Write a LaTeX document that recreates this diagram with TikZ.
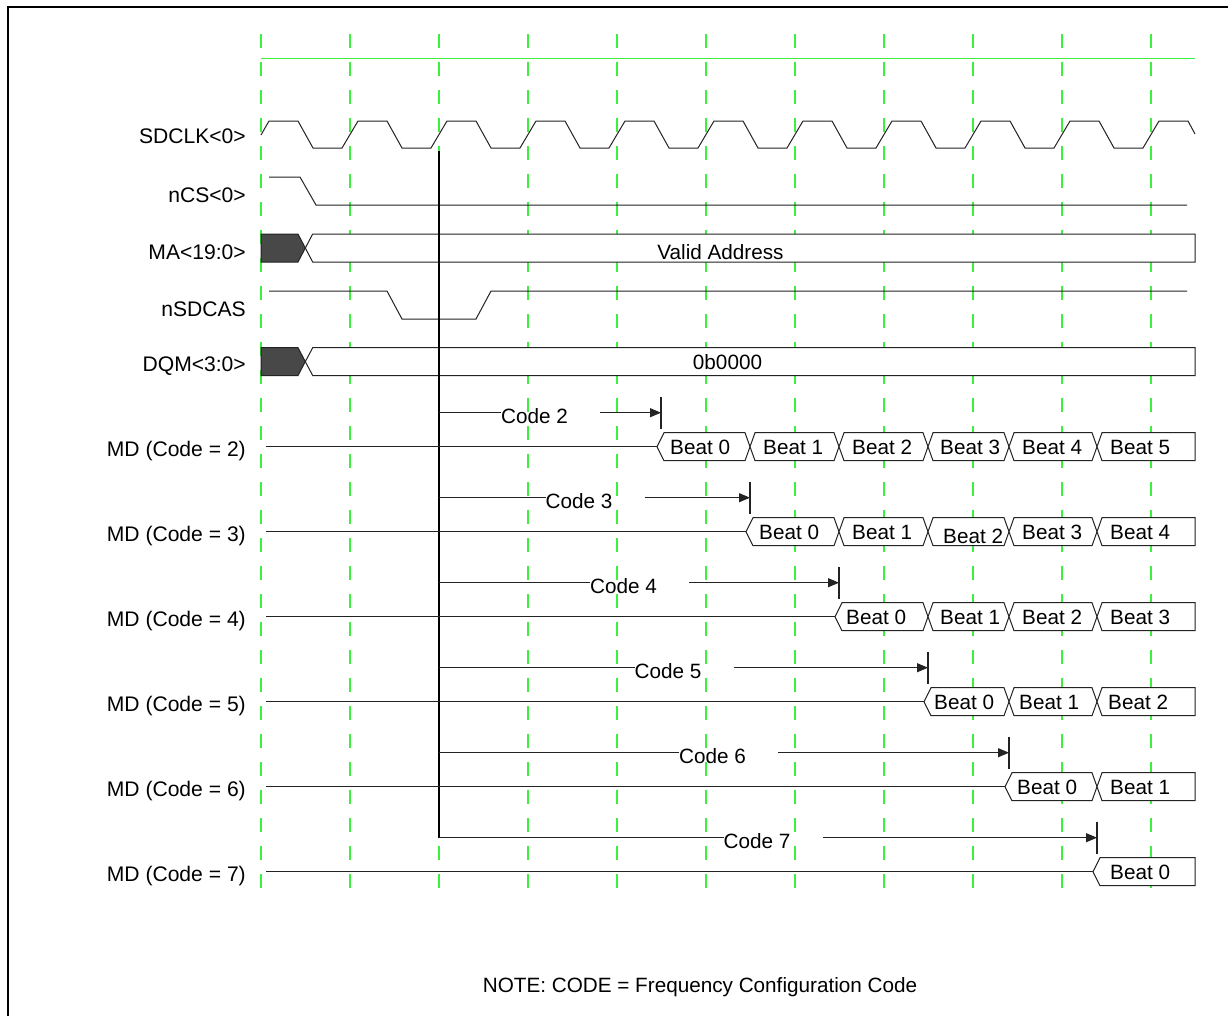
\documentclass[tikz,border=0pt]{standalone}
\usepackage{fontspec}
\setmainfont{Liberation Sans}
\usetikzlibrary{arrows.meta}
\definecolor{gridc}{RGB}{60,240,60}
\definecolor{sig}{RGB}{35,35,35}
\definecolor{busfill}{RGB}{72,72,72}
\tikzset{
  lbl/.style={font=\fontsize{20.7}{25}\selectfont, inner sep=0pt, text=black},
  sidelbl/.style={font=\fontsize{21.1}{25}\selectfont, inner sep=0pt, text=black, anchor=base east},
  gridline/.style={gridc, line width=1.4pt, dash pattern=on 14pt off 14pt},
  wave/.style={sig, line width=1pt},
  busline/.style={sig, line width=1pt, fill=white},
  darkbus/.style={sig, line width=1pt, fill=busfill},
  codeline/.style={sig, line width=1.1pt},
  codearrow/.style={sig, line width=1.1pt, -{Triangle[length=11pt,width=9pt]}},
  ticker/.style={sig, line width=1.1pt},
}
\newcommand\firstbeat[3]{\draw[busline] ({#1-4},#3) -- ({#1+3},{#3-14}) -- ({#2-5},{#3-14}) -- (#2,#3) -- ({#2-5},{#3+14}) -- ({#1+3},{#3+14}) -- cycle;}
\newcommand\midbeat[3]{\draw[busline] (#1,#3) -- ({#1+5},{#3-14}) -- ({#2-5},{#3-14}) -- (#2,#3) -- ({#2-5},{#3+14}) -- ({#1+5},{#3+14}) -- cycle;}
\newcommand\lastbeat[3]{\draw[busline] (#1,#3) -- ({#1+5},{#3-14}) -- (#2,{#3-14}) -- (#2,{#3+14}) -- ({#1+5},{#3+14}) -- cycle;}
\newcommand\onlybeat[3]{\draw[busline] ({#1-4},#3) -- ({#1+3},{#3-14}) -- (#2,{#3-14}) -- (#2,{#3+14}) -- ({#1+3},{#3+14}) -- cycle;}
% code arrow: #1 code, #2 arrow y, #3 text x, #4 tick x
\newcommand\codearr[4]{%
  \coordinate (s#1) at (439,#2);
  \node[lbl, anchor=base west] (c#1) at (#3,{#2+11}) {Code #1};
  \coordinate (r#1) at ({#3+99},#2);
  \coordinate (t#1) at (#4,#2);
  \draw[codeline] (s#1) -- (c#1.west |- s#1);
  \draw[codearrow] (r#1) -- (t#1);
  \draw[ticker] (#4,{#2-16}) -- (#4,{#2+16});
}
\begin{document}
\begin{tikzpicture}[x=1pt,y=-1pt]
\useasboundingbox (0,0) rectangle (1228,1015);
\fill[white] (0,0) rectangle (1228,1015);
% frame
\draw[line width=2pt, black] (8,1020) -- (8,7) -- (1235,7);
% grid
\foreach \k in {0,...,10} \draw[gridline] ({261+89*\k},34) -- ({261+89*\k},890);
\draw[gridc, line width=1.5pt] (261,58.7) -- (1195,58.7);

% labels
\node[sidelbl] (lclk) at (246,143.4) {SDCLK<0>};
\node[sidelbl] (lcs) at (246,202.4) {nCS<0>};
\node[sidelbl] (lma) at (246,259.4) {MA<19:0>};
\node[sidelbl] (lcas) at (246,316.4) {nSDCAS};
\node[sidelbl] (ldqm) at (246,371.4) {DQM<3:0>};
\foreach \n [count=\i from 0] in {2,...,7}
  \node[sidelbl] (lmd\n) at (246,{446.7+85*\i+9.4}) {MD (Code = \n)};

% clock
\draw[wave] (261,135) -- (269,121)
  \foreach \k in {0,...,9} { -- ({261+89*\k+37},121) -- ({261+89*\k+52},148) -- ({261+89*\k+81},148) -- ({261+89*\k+97},121) }
  -- (1188,121) -- (1195,134);
% nCS
\draw[wave] (269,177) -- (300,177) -- (316,205) -- (1187,205);
% MA
\draw[darkbus] (261,234) -- (298,234) -- (305.3,248) -- (298,262) -- (261,262) -- cycle;
\draw[busline] (305.3,248) -- (312.7,234) -- (1195,234) -- (1195,262) -- (312.7,262) -- cycle;
\node[lbl, anchor=base] (va) at (720.5,259.4) {Valid Address};
% nSDCAS
\draw[wave] (269,291) -- (387,291) -- (402,319) -- (476,319) -- (491,291) -- (1187,291);
% DQM
\draw[darkbus] (261,347.7) -- (298,347.7) -- (305.3,361.6) -- (298,375.5) -- (261,375.5) -- cycle;
\draw[busline] (305.3,361.6) -- (312.7,347.7) -- (1195,347.7) -- (1195,375.5) -- (312.7,375.5) -- cycle;
\node[lbl, anchor=base] (dq) at (727.5,369.4) {0b0000};

% reference line
\draw[line width=2pt, black] (439,151) -- (439,837.7);

% code arrows
\codearr{2}{412.7}{501}{661}
\codearr{3}{497.7}{545.5}{750}
\codearr{4}{582.7}{590}{839}
\codearr{5}{667.7}{634.5}{928}
\codearr{6}{752.7}{679}{1009}
\codearr{7}{837.7}{723.5}{1097}

% MD rows: base lines
\draw[wave] (266,446.7) -- (657,446.7);
\draw[wave] (266,531.7) -- (746,531.7);
\draw[wave] (266,616.7) -- (835,616.7);
\draw[wave] (266,701.7) -- (924,701.7);
\draw[wave] (266,786.7) -- (1005,786.7);
\draw[wave] (266,871.7) -- (1093,871.7);

% Code 2
\firstbeat{661}{750}{446.7}
\midbeat{750}{839}{446.7}
\midbeat{839}{928}{446.7}
\midbeat{928}{1009}{446.7}
\midbeat{1009}{1097}{446.7}
\lastbeat{1097}{1195}{446.7}
\node[lbl, anchor=base west] (b20) at (670,454.3) {Beat 0};
\node[lbl, anchor=base west] (b21) at (763,454.3) {Beat 1};
\node[lbl, anchor=base west] (b22) at (852,454.3) {Beat 2};
\node[lbl, anchor=base west] (b23) at (940,454.3) {Beat 3};
\node[lbl, anchor=base west] (b24) at (1022,454.3) {Beat 4};
\node[lbl, anchor=base west] (b25) at (1110,454.3) {Beat 5};
% Code 3
\firstbeat{750}{839}{531.7}
\midbeat{839}{928}{531.7}
\midbeat{928}{1009}{531.7}
\midbeat{1009}{1097}{531.7}
\lastbeat{1097}{1195}{531.7}
\node[lbl, anchor=base west] (b30) at (759,539.3) {Beat 0};
\node[lbl, anchor=base west] (b31) at (852,539.3) {Beat 1};
\node[lbl, anchor=base west] (b32) at (943,543.3) {Beat 2};
\node[lbl, anchor=base west] (b33) at (1022,539.3) {Beat 3};
\node[lbl, anchor=base west] (b34) at (1110,539.3) {Beat 4};
% Code 4
\firstbeat{839}{928}{616.7}
\midbeat{928}{1009}{616.7}
\midbeat{1009}{1097}{616.7}
\lastbeat{1097}{1195}{616.7}
\node[lbl, anchor=base west] (b40) at (846,624.3) {Beat 0};
\node[lbl, anchor=base west] (b41) at (940,624.3) {Beat 1};
\node[lbl, anchor=base west] (b42) at (1022,624.3) {Beat 2};
\node[lbl, anchor=base west] (b43) at (1110,624.3) {Beat 3};
% Code 5
\firstbeat{928}{1009}{701.7}
\midbeat{1009}{1097}{701.7}
\lastbeat{1097}{1195}{701.7}
\node[lbl, anchor=base west] (b50) at (934,709.3) {Beat 0};
\node[lbl, anchor=base west] (b51) at (1019,709.3) {Beat 1};
\node[lbl, anchor=base west] (b52) at (1108,709.3) {Beat 2};
% Code 6
\firstbeat{1009}{1097}{786.7}
\lastbeat{1097}{1195}{786.7}
\node[lbl, anchor=base west] (b60) at (1017,794.3) {Beat 0};
\node[lbl, anchor=base west] (b61) at (1110,794.3) {Beat 1};
% Code 7
\onlybeat{1097}{1195}{871.7}
\node[lbl, anchor=base west] (b70) at (1110,879.3) {Beat 0};

% note
\node[lbl, anchor=base] (note) at (700,992.4) {NOTE: CODE = Frequency Configuration Code};
\end{tikzpicture}
\end{document}
